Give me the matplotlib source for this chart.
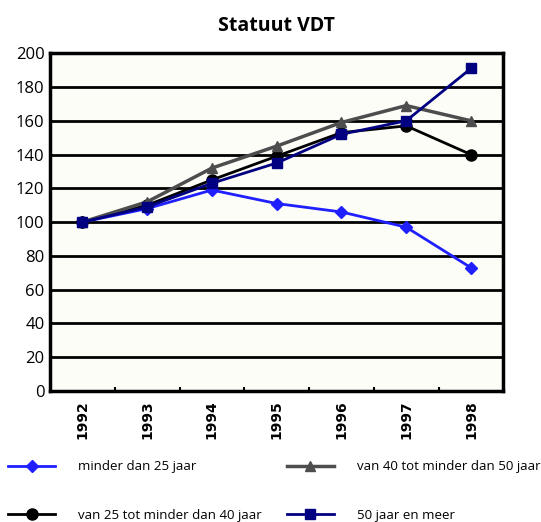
import matplotlib.pyplot as plt
from matplotlib.ticker import FixedLocator

# data
years = ["1992", "1993", "1994", "1995", "1996", "1997", "1998"]
minder_25 = [100, 108, 119, 111, 106, 97, 73]
van_25_40 = [100, 110, 125, 139, 153, 157, 140]
van_40_50 = [100, 112, 132, 145, 159, 169, 160]
meer_50 = [100, 109, 123, 135, 152, 160, 191]

plt.rcParams['font.family'] = ['Open Sans', 'DejaVu Sans']

fig = plt.figure(figsize=(5.41, 5.22), dpi=100)
ax = fig.add_axes([0.0924, 0.251, 0.838, 0.647])
ax.set_facecolor("#fcfdf7")

x = range(len(years))
ax.plot(x, minder_25, color="#1f1fff", lw=2, marker="D", ms=6, label="minder dan 25 jaar")
ax.plot(x, van_25_40, color="black", lw=2, marker="o", ms=8, label="van 25 tot minder dan 40 jaar")
ax.plot(x, van_40_50, color="#4d4d4d", lw=2.5, marker="^", ms=7, label="van 40 tot minder dan 50 jaar")
ax.plot(x, meer_50, color="#000080", lw=2, marker="s", ms=7, label="50 jaar en meer")

ax.set_xlim(-0.5, len(years) - 0.5)
ax.set_ylim(0, 200)
ax.set_yticks(range(0, 201, 20))
ax.yaxis.grid(True, color="black", lw=2)
ax.set_axisbelow(True)
ax.tick_params(axis="y", length=0, labelsize=12, pad=4)

ax.set_xticks(list(x))
ax.set_xticklabels(years, rotation=90, fontweight="bold", fontsize=10, family="DejaVu Sans Condensed")
ax.tick_params(axis="x", which="major", length=0, pad=7)
ax.xaxis.set_minor_locator(FixedLocator([i + 0.5 for i in range(len(years) - 1)]))
ax.tick_params(axis="x", which="minor", direction="in", length=3, width=1.5)
for s in ax.spines.values():
    s.set_linewidth(2.5)

ax.set_title("Statuut VDT", fontsize=14, fontweight="bold", pad=16)

h, l = ax.get_legend_handles_labels()
fig.legend(h[:2], l[:2], loc="upper left", bbox_to_anchor=(0.005, 0.128),
           frameon=False, fontsize=9.5, handlelength=3.6, handletextpad=1.7,
           labelspacing=2.7, borderaxespad=0)
fig.legend(h[2:], l[2:], loc="upper left", bbox_to_anchor=(0.52, 0.128),
           frameon=False, fontsize=9.5, handlelength=3.6, handletextpad=1.7,
           labelspacing=2.7, borderaxespad=0)

fig.savefig("out.png", dpi=100)
